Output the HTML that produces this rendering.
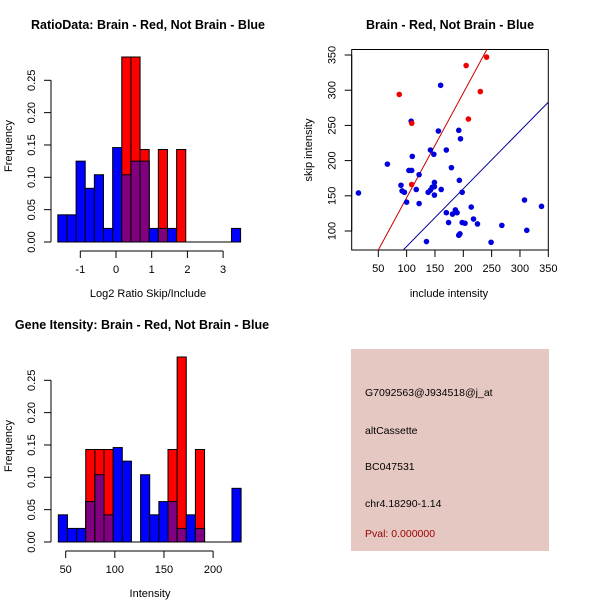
<!DOCTYPE html>
<html><head><meta charset="utf-8"><style>
html,body{margin:0;padding:0;background:#fff}
svg{display:block;font-family:"Liberation Sans",Arial,sans-serif}
</style></head><body>
<svg id="s" width="600" height="600" viewBox="0 0 600 600"></svg>
<script>
// ---- data ----
const ratioBinStart = -1.63;
const ratioBinWidth = 0.256;
const ratioBlue = [0.042,0.042,0.125,0.083,0.104,0.021,0.146,0.104,0.125,0.125,0.021,0.021,0.021,0,0,0,0,0,0,0.021];
const ratioRed  = [0,0,0,0,0,0,0,0.286,0.286,0.143,0,0.143,0,0.143,0,0,0,0,0,0];
const ratioXTicks = [-1,0,1,2,3];
const freqTicks = [0,0.05,0.10,0.15,0.20,0.25];
const freqTickLabels = ["0.00","0.05","0.10","0.15","0.20","0.25"];

const intBinStart = 42.5;
const intBinWidth = 9.3;
const intBlue = [0.042,0.021,0.021,0.0625,0.104,0.042,0.146,0.125,0,0.104,0.042,0.0625,0.0625,0.021,0.042,0.021,0,0,0,0.083];
const intRed  = [0,0,0,0.143,0.143,0.143,0,0,0,0,0,0,0.143,0.286,0,0.143,0,0,0,0];
const intXTicks = [50,100,150,200];

const scatterTicks = [50,100,150,200,250,300,350];
const scatterYTicks = [100,150,200,250,300,350];
const redX = [87,109,109,205,209,230,241];
const redY = [294,253,166,335,259,298,347];
const blueX = [15,66,90,92,96,100,104,109,108,110,117,122,122,135,138,142,142,145,148,149,149,149,156,160,161,170,170,174,179,181,186,189,192,193,192,195,194,198,198,203,214,218,225,249,268,308,312,338];
const blueY = [154,195,165,157,155,141,186,186,256,206,159,180,139,85,155,215,158,162,209,169,151,163,242,307,159,215,126,112,190,124,130,126,243,172,94,231,96,155,112,111,134,117,110,84,108,144,101,135];
const redLine = [-1.4,1.487];   // intercept, slope
const blueLine = [-4,0.82];

const NS="http://www.w3.org/2000/svg";
const svg=document.getElementById('s');
function el(tag,attrs,parent,text){const e=document.createElementNS(NS,tag);for(const k in attrs)e.setAttribute(k,attrs[k]);if(text!==undefined)e.textContent=text;(parent||svg).appendChild(e);return e;}

function hist(g,binStart,binW,blue,red,xOf,yOf){
  for(let i=0;i<blue.length;i++){
    const x0=xOf(binStart+i*binW), x1=xOf(binStart+(i+1)*binW);
    const b=blue[i], r=red[i];
    if(b>0){const e=el('rect',{x:x0,y:yOf(b),width:x1-x0,height:yOf(0)-yOf(b),fill:'#0000ff',stroke:'#000','stroke-width':1},g);
      
      }
    if(r>0){const e=el('rect',{x:x0,y:yOf(r),width:x1-x0,height:yOf(0)-yOf(r),fill:'#ff0000',stroke:'#000','stroke-width':1},g);
      
      }
    const m=Math.min(b,r);
    if(m>0){const e=el('rect',{x:x0,y:yOf(m),width:x1-x0,height:yOf(0)-yOf(m),fill:'#800080',stroke:'#000','stroke-width':1},g);
      
      }
  }
  const e=el('line',{x1:xOf(binStart),x2:xOf(binStart+blue.length*binW),y1:yOf(0),y2:yOf(0),stroke:'#000'},g);
  
  
}
function yAxis(g,x,ticks,labels,yOf){
  el('line',{x1:x,x2:x,y1:yOf(ticks[0]),y2:yOf(ticks[ticks.length-1]),stroke:'#000'},g);
  ticks.forEach((t,i)=>{const y=yOf(t);el('line',{x1:x-7,x2:x,y1:y,y2:y,stroke:'#000'},g);
    const tx=el('text',{x:x-20,y:y+4,'font-size':11,'text-anchor':'middle',transform:`rotate(-90 ${x-20} ${y})`},g,labels[i]);
    
    });
}
function xAxis(g,y,ticks,xOf){
  el('line',{x1:xOf(ticks[0]),x2:xOf(ticks[ticks.length-1]),y1:y,y2:y,stroke:'#000'},g);
  ticks.forEach(t=>{const x=xOf(t);el('line',{x1:x,x2:x,y1:y,y2:y+7,stroke:'#000'},g);
    const tx=el('text',{x:x,y:y+22,'font-size':11,'text-anchor':'middle'},g,String(t));
    
    });
}
function label(g,x,y,txt,name,opts){const t=el('text',Object.assign({x:x,y:y,'font-size':11,'text-anchor':'middle'},opts||{}),g,txt);
  
  return t;}

const yF=v=>242-v*(161.7/0.25);

// Panel 1
const g1=el('g',{});


const x1F=v=>116+v*35.7;
hist(g1,ratioBinStart,ratioBinWidth,ratioBlue,ratioRed,x1F,yF);
yAxis(g1,51,freqTicks,freqTickLabels,yF);
xAxis(g1,251,ratioXTicks,x1F);
label(g1,148,29,'RatioData: Brain - Red, Not Brain - Blue','ratio-title',{'font-weight':'bold','font-size':12.5});
label(g1,148,297,'Log2 Ratio Skip/Include','ratio-x-title');
label(g1,12,146,'Frequency','ratio-y-title',{transform:'rotate(-90 12 146)'});

// Panel 3
const g3=el('g',{transform:'translate(0,300)'});


const x3F=v=>65.7+(v-50)*0.9827;
hist(g3,intBinStart,intBinWidth,intBlue,intRed,x3F,yF);
yAxis(g3,51,freqTicks,freqTickLabels,yF);
xAxis(g3,251,intXTicks,x3F);
label(g3,142,29,'Gene Itensity: Brain - Red, Not Brain - Blue','intensity-title',{'font-weight':'bold','font-size':12.5});
label(g3,150,297,'Intensity','intensity-x-title');
label(g3,12,146,'Frequency','intensity-y-title',{transform:'rotate(-90 12 146)'});

// Panel 2 scatter
const g2=el('g',{});


const sx=v=>378.3+(v-50)*0.5667, sy=v=>55-(v-350)*0.704;
const L=351.7,R=548.3,T=49.5,B=250;
const clip=el('clipPath',{id:'cp'},g2);el('rect',{x:L,y:T,width:R-L,height:B-T},clip);
el('rect',{x:L,y:T,width:R-L,height:B-T,fill:'none',stroke:'#000'},g2);
yAxis(g2,L,scatterYTicks,scatterYTicks.map(String),sy);
xAxis(g2,B,scatterTicks,sx);
const lg=el('g',{'clip-path':'url(#cp)'},g2);
const xmin=0,xmax=360;
const rl=el('line',{x1:sx(xmin),y1:sy(redLine[0]+redLine[1]*xmin),x2:sx(xmax),y2:sy(redLine[0]+redLine[1]*xmax),stroke:'#cc0000','stroke-width':1},lg);


const bl=el('line',{x1:sx(xmin),y1:sy(blueLine[0]+blueLine[1]*xmin),x2:sx(xmax),y2:sy(blueLine[0]+blueLine[1]*xmax),stroke:'#000099','stroke-width':1},lg);


blueX.forEach((v,i)=>{const c=el('circle',{cx:sx(v),cy:sy(blueY[i]),r:2.8,fill:'#0000dd'},g2);
  
  });
redX.forEach((v,i)=>{const c=el('circle',{cx:sx(v),cy:sy(redY[i]),r:2.8,fill:'#ee0000'},g2);
  
  });
label(g2,450,29,'Brain - Red, Not Brain - Blue','scatter-title',{'font-weight':'bold','font-size':12.5});
label(g2,449,297,'include intensity','scatter-x-title');
label(g2,312,150,'skip intensity','scatter-y-title',{transform:'rotate(-90 312 150)'});

// Info box
const g4=el('g',{});


el('rect',{x:351,y:349,width:198,height:202,fill:'#e6c8c2'},g4);
const info=[['G7092563@J934518@j_at',396,'#000','probe-id'],['altCassette',434,'#000','event-type'],['BC047531',470,'#000','accession'],['chr4.18290-1.14',507,'#000','location'],['Pval: 0.000000',537,'#990000','p-value']];
info.forEach(a=>label(g4,365,a[1],a[0],a[3],{'text-anchor':'start','font-size':10.5,fill:a[2]}));
</script>
</body></html>
